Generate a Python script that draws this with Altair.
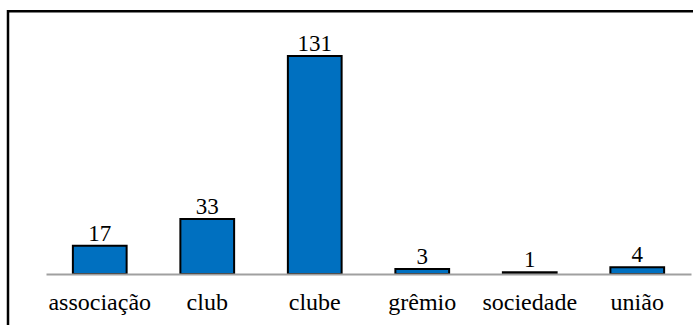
import altair as alt
import pandas as pd

categories = ["associação", "club", "clube", "grêmio", "sociedade", "união"]
counts = [17, 33, 131, 3, 1, 4]

df = pd.DataFrame({"categoria": categories, "n": counts})

FONT = "'Liberation Serif', 'Times New Roman', 'DejaVu Serif', serif"

x = alt.X(
    "categoria:N",
    sort=categories,
    title=None,
    scale=alt.Scale(paddingInner=0.5, paddingOuter=0.25),
    axis=alt.Axis(
        labelAngle=0,
        ticks=False,
        domainColor="#a0a0a0",
        domainWidth=2,
        labelFont=FONT,
        labelFontSize=24,
        labelColor="black",
        labelBaseline="alphabetic",
        labelPadding=35,
        zindex=1,
    ),
)
y = alt.Y("n:Q", title=None, scale=alt.Scale(domain=[0, 140], nice=False), axis=None)

bars = alt.Chart(df).mark_bar(
    color="#0070C0", stroke="black", strokeWidth=2
).encode(x=x, y=y)

labels = alt.Chart(df).mark_text(
    font=FONT, fontSize=23, baseline="alphabetic", dy=-5, color="black"
).encode(x=alt.X("categoria:N", sort=categories), y="n:Q", text="n:Q")

border = alt.Chart(pd.DataFrame({"a": [0]})).mark_rect(
    fill=None, stroke="black", strokeWidth=2.5
).encode(
    x=alt.value(-38), x2=alt.value(720), y=alt.value(-29.7), y2=alt.value(320)
)

chart = alt.layer(bars, labels, border).properties(
    width=645,
    height=233,
    autosize=alt.AutoSizeParams(type="none"),
    padding={"left": 46, "top": 41, "right": 2, "bottom": 51},
).configure_view(stroke=None)

chart.save("out.html", embed_options={"renderer": "svg", "actions": False})
